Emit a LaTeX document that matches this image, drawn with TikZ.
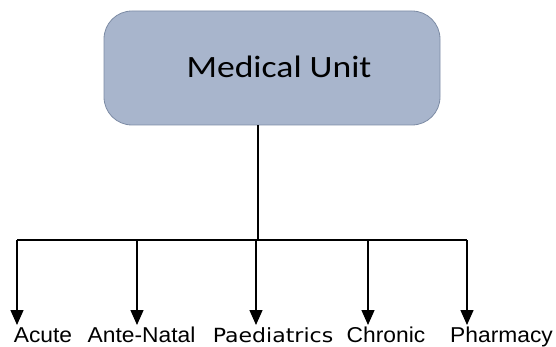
\documentclass[tikz,border=0pt]{standalone}
\usepackage{fontspec}
\setmainfont{Liberation Sans}
\newfontfamily\unitfont{Carlito}
\newfontfamily\paedfont{DejaVu Sans}
\usetikzlibrary{arrows.meta}
\definecolor{unitfill}{RGB}{168,181,204}
\definecolor{unitedge}{RGB}{125,140,165}
\tikzset{
  unitbox/.style={draw=unitedge, line width=0.8pt, fill=unitfill,
    rounded corners=28pt, minimum width=336pt, minimum height=114pt, inner sep=0pt},
  wire/.style={line width=1.4pt, black},
  branch/.style={wire, -{Triangle[length=15pt,width=13pt]}},
  leaf/.style={anchor=base, inner sep=0pt, font=\fontsize{21.5}{24}\selectfont}
}
\begin{document}
\begin{tikzpicture}[x=1pt,y=-1pt]
  \useasboundingbox (0,0) rectangle (556,347);
  % top unit
  \node[unitbox] (unit) at (272,68) {};
  \node[anchor=base, inner sep=0pt] (unitlabel) at (279,78)
    {\scalebox{1.15}[1]{\unitfont\fontsize{31}{36}\selectfont Medical Unit}};
  % bus and branch points
  \coordinate (hub) at (258,240);
  \coordinate (b1) at (17,240);
  \coordinate (b2) at (137,240);
  \coordinate (b3) at (256,240);
  \coordinate (b4) at (368,240);
  \coordinate (b5) at (467,240);
  % leaf labels
  \node[leaf] (acute) at (43,342) {\scalebox{1.06}[1]{Acute}};
  \node[leaf] (antenatal) at (141.5,342) {\scalebox{1.06}[1]{Ante-Natal}};
  \node[leaf] (paed) at (273,342) {\scalebox{1.13}[1]{\paedfont\fontsize{19.5}{23}\selectfont Paediatrics}};
  \node[leaf] (chronic) at (386,342) {\scalebox{1.06}[1]{Chronic}};
  \node[leaf] (pharm) at (501.5,342) {\scalebox{1.06}[1]{Pharmacy}};
  % connectors
  \draw[wire] (unit.south -| hub) -- (hub);
  \draw[wire] (b1) -- (b5);
  \draw[branch] (b1) -- (b1 |- 0,325);
  \draw[branch] (b2) -- (b2 |- 0,325);
  \draw[branch] (b3) -- (b3 |- 0,325);
  \draw[branch] (b4) -- (b4 |- 0,325);
  \draw[branch] (b5) -- (b5 |- 0,325);
\end{tikzpicture}
\end{document}
